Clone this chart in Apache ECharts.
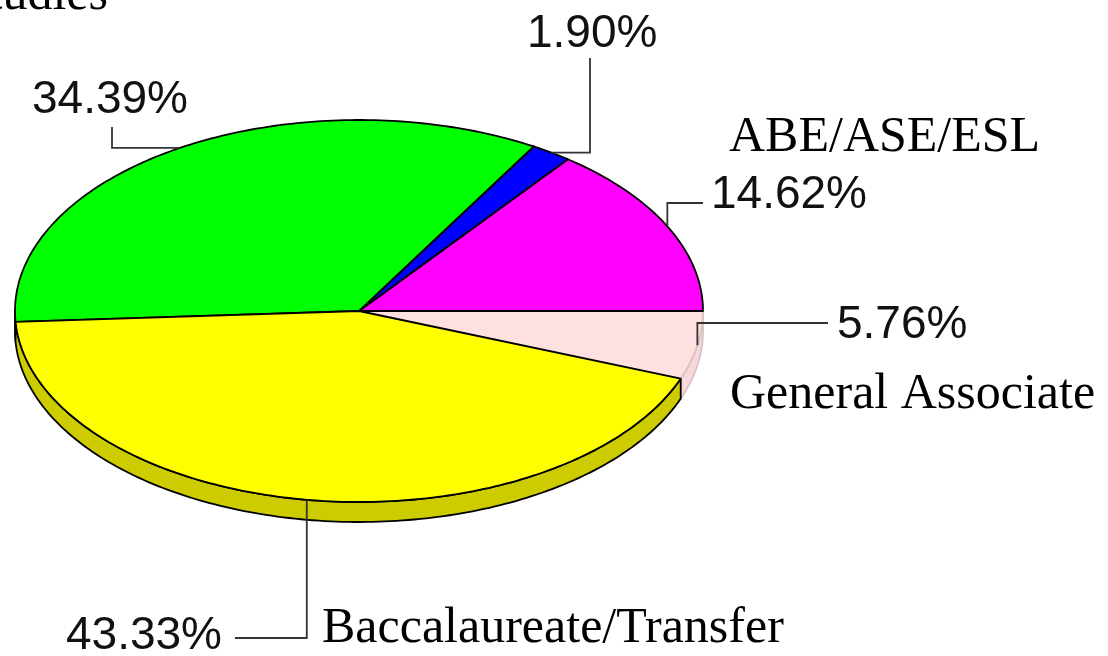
<!DOCTYPE html>
<html><head><meta charset="utf-8">
<script src="https://cdn.jsdelivr.net/npm/echarts@6/dist/echarts.min.js"></script>
<style>html,body{margin:0;padding:0;background:#fff}#c{width:1108px;height:656px}</style>
</head><body><div id="c"></div>
<script>
// ---- data ----
const categories = ['ABE/ASE/ESL', 'Other', 'Developmental Studies', 'Baccalaureate/Transfer', 'General Associate'];
const shares = [14.62, 1.90, 34.39, 43.33, 5.76];
const showCategory = [true, false, true, true, true];

// ---- styles ----
const topColors = ['#FF00FF', '#0000FF', '#00FF00', '#FFFF00', '#FFE0E1'];
const sideColors = ['#CC00CC', '#0000CC', '#00CC00', '#CCCC00', '#F7D9DC'];
const edgeColors = ['#000000', '#000000', '#000000', '#000000', '#D9C2C5'];

// ---- layout (pixels) ----
const CX = 359, CY = 311, RX = 344, RY = 191, DEPTH = 20;
const labelLayout = [
  { lead: 'v', at: 203, to: 703, pct: [711, 195, 'left'], cat: [729, 138, 'left'] },
  { lead: 'h', at: 590, to: 58, pct: [527, 34, 'left'], cat: null },
  { lead: 'h', at: 112, to: 127, pct: [32, 100, 'left'], cat: [108, -4, 'right'] },
  { lead: 'v', at: 638, to: 235, pct: [222, 636, 'right'], cat: [322, 629, 'left'] },
  { lead: 'v', at: 323, to: 828, pct: [837, 325, 'left'], cat: [730, 395, 'left'] }
];
const PCT_FONT = "'Liberation Sans', Arial, sans-serif";
const CAT_FONT = "'Liberation Serif', 'Times New Roman', serif";

const total = shares.reduce((a, b) => a + b, 0);
const starts = [], ends = [];
(function () { let acc = 0; shares.forEach(v => { starts.push(acc / total * 360); acc += v; ends.push(acc / total * 360); }); })();

function pt(deg, dy) {
  const r = deg * Math.PI / 180;
  return [CX + RX * Math.cos(r), CY - RY * Math.sin(r) + (dy || 0)];
}
function arc(a0, a1, dy) {
  const n = Math.max(2, Math.ceil(Math.abs(a1 - a0)));
  const pts = [];
  for (let k = 0; k <= n; k++) pts.push(pt(a0 + (a1 - a0) * k / n, dy));
  return pts;
}

function renderSide(params, api) {
  const i = params.dataIndex;
  const s = Math.max(starts[i], 180), e = Math.min(ends[i], 360);
  if (e <= s) return { type: 'group', children: [] };
  const pts = arc(s, e, 0).concat(arc(e, s, DEPTH));
  return {
    type: 'polygon', z2: i === 4 ? 0 : 1,
    shape: { points: pts },
    style: { fill: sideColors[i], stroke: edgeColors[i], lineWidth: 1.8, lineJoin: 'round' }
  };
}

function renderTop(params, api) {
  const i = params.dataIndex;
  const v = api.value(0);
  const pts = [[CX, CY]].concat(arc(starts[i], ends[i], 0));
  const children = [{
    type: 'polygon', z2: i === 4 ? 0 : 1,
    shape: { points: pts },
    style: { fill: topColors[i], stroke: edgeColors[i], lineWidth: 1.8, lineJoin: 'round' }
  }];
  const L = labelLayout[i];
  const a = pt((starts[i] + ends[i]) / 2, 0);
  const line = L.lead === 'v'
    ? [a, [a[0], L.at], [L.to, L.at]]
    : [a, [L.at, a[1]], [L.at, L.to]];
  children.push({
    type: 'polyline', z2: 5,
    shape: { points: line },
    style: { stroke: '#333333', lineWidth: 1.8, fill: null }
  });
  children.push({
    type: 'text', z2: 6, x: L.pct[0], y: L.pct[1],
    style: { text: v.toFixed(2) + '%', fontFamily: PCT_FONT, fontSize: 46, fill: '#111111', align: L.pct[2], verticalAlign: 'middle' }
  });
  if (showCategory[i] && L.cat) {
    children.push({
      type: 'text', z2: 6, x: L.cat[0], y: L.cat[1],
      style: { text: categories[i], fontFamily: CAT_FONT, fontSize: 50, fill: '#000000', align: L.cat[2], verticalAlign: 'middle' }
    });
  }
  return { type: 'group', children: children };
}

const chart = echarts.init(document.getElementById('c'), null, { renderer: 'canvas' });
const seriesData = shares.map((v, i) => ({ name: categories[i], value: v }));
chart.setOption({
  backgroundColor: '#ffffff',
  animation: false,
  series: [
    { type: 'custom', name: 'sides', coordinateSystem: 'none', z: 1, silent: true, data: seriesData, renderItem: renderSide },
    { type: 'custom', name: 'tops', coordinateSystem: 'none', z: 2, silent: true, data: seriesData, renderItem: renderTop }
  ]
});
</script>
</body></html>
